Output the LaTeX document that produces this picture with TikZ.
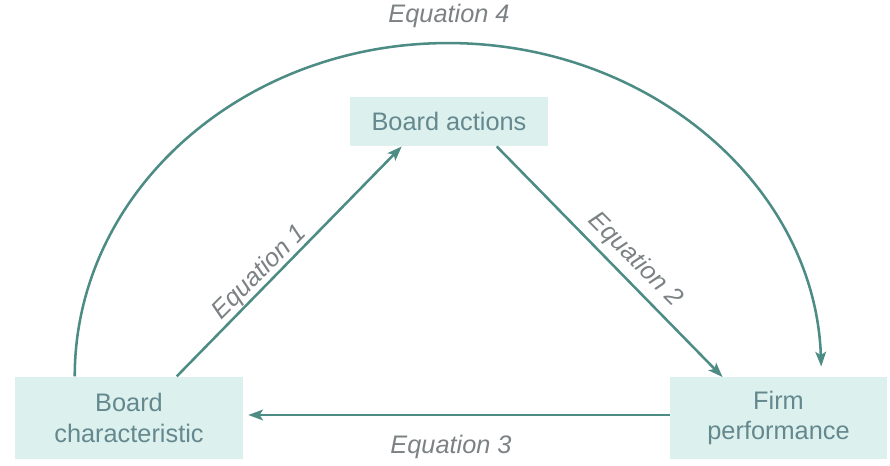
\documentclass[tikz,border=0pt]{standalone}
\usepackage{fontspec}
\setmainfont{Liberation Sans}
\usetikzlibrary{arrows.meta,calc}
\definecolor{boxfill}{HTML}{DCF1EE}
\definecolor{linec}{HTML}{4C8C84}
\definecolor{nodetext}{HTML}{65888E}
\definecolor{labeltext}{HTML}{7C8284}
\begin{document}
\begin{tikzpicture}[x=0.75pt,y=0.75pt,
  box/.style={fill=boxfill,draw=none,align=center,text=nodetext,inner sep=0pt,
    font=\fontsize{19}{23}\selectfont},
  lab/.style={text=labeltext,inner sep=0pt,font=\fontsize{19}{23}\selectfont\itshape},
  conn/.style={draw=linec,line width=1.9pt,-{Stealth[length=11pt,width=8pt,inset=2.5pt]}}]
\useasboundingbox (0,0) rectangle (890,466);
\node[box,minimum width=171pt,minimum height=62pt] (bc) at (129,48) {Board\\characteristic};
\node[box,minimum width=163pt,minimum height=61pt] (fp) at (778.5,48) {Firm\\performance};
\node[box,minimum width=148.5pt,minimum height=37pt] (act) at (449,344.5) {Board actions};
\draw[conn] ($(bc.north west)+(162,0)$) -- ($(act.south west)+(52,0)$);
\draw[conn] ($(act.south west)+(147,0)$) -- ($(fp.north west)+(53,0)$);
\draw[conn] ($(fp.west)+(0,3)$) -- ($(bc.east)+(5,3)$);
\draw[conn] ($(bc.north west)+(60,0)$) arc[start angle=180,end angle=1.7,x radius=280pt,y radius=250pt];
\node[lab,rotate=45] (l1) at (260,193) {Equation 1};
\node[lab,rotate=-45] (l2) at (635,206) {Equation 2};
\node[lab] (l3) at (451,19) {Equation 3};
\node[lab] (l4) at (449,450) {Equation 4};
\end{tikzpicture}
\end{document}
